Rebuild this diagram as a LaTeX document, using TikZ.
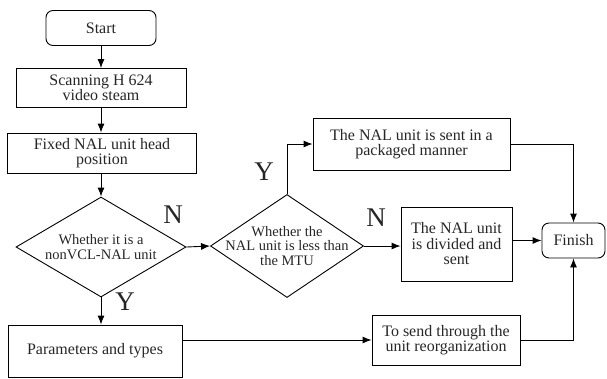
\documentclass[tikz,border=0pt]{standalone}
\usepackage{fontspec}
\setmainfont{Liberation Serif}
\usepackage{tikz}
\usetikzlibrary{positioning,shapes.geometric,arrows.meta}

\begin{document}
\begin{tikzpicture}[x=1pt, y=-1pt,
        box/.style={draw, line width=0.9pt, align=center, inner sep=1pt,
            text=black!85, font=\fontsize{16}{15.5}\selectfont},
        terminal/.style={box, rounded corners=7pt},
        decision/.style={draw, diamond, line width=0.9pt, align=center,
            aspect=1.6, inner sep=-10pt, text=black!85,
            font=\fontsize{14.5}{14.5}\selectfont},
        yn/.style={text=black!85, font=\fontsize{27}{27}\selectfont},
        arr/.style={-{Latex[length=9pt, width=7pt]}, line width=0.9pt}]
    \useasboundingbox (0,0) rectangle (607,378);

    % Nodes
    \node[terminal, minimum width=110, minimum height=35] (start) at (101,28) {Start};
    \node[box, minimum width=170, minimum height=39] (scan) at (101,88) {Scanning H 624\\video steam};
    \node[box, minimum width=189, minimum height=40] (fixed) at (102,153) {Fixed NAL unit head\\position};
    \node[decision, minimum width=170, minimum height=100] (isvcl) at (101,247) {Whether it is a\\nonVCL-NAL unit};
    \node[decision, minimum width=153, minimum height=103] (mtu) at (287,246) {Whether the\\NAL unit is less than\\the MTU};
    \node[box, minimum width=197, minimum height=52] (pack) at (411.5,144) {The NAL unit is sent in a\\packaged manner};
    \node[box, minimum width=111, minimum height=74] (divide) at (456.5,244) {The NAL unit\\is divided and\\sent};
    \node[terminal, minimum width=63, minimum height=35] (finish) at (573.5,240.5) {Finish};
    \node[box, minimum width=174, minimum height=52] (param) at (95,351) {Parameters and types};
    \node[box, minimum width=148, minimum height=50] (reorg) at (446,340) {To send through the\\unit reorganization};

    % Labels
    \node[yn] (n1) at (173,215) {N};
    \node[yn] (y1) at (125,302) {Y};
    \node[yn] (y2) at (264,172) {Y};
    \node[yn] (n2) at (376,218) {N};

    % Edges
    \draw[arr] (start) -- (scan);
    \draw[arr] (scan) -- (scan |- fixed.north);
    \draw[arr] (fixed.south -| isvcl) -- (isvcl.north);
    \draw[arr] (isvcl.east) -- (mtu.west);
    \draw[arr] (isvcl.south) -- (isvcl.south |- param.north);
    \draw[arr] (mtu.north) |- (pack.west);
    \draw[arr] (mtu.east) -- (mtu.east -| divide.west);
    \draw[arr] (pack.east) -| (finish.north);
    \draw[arr] (divide.east |- finish.west) -- (finish.west);
    \draw[arr] (param.east |- reorg.west) -- (reorg.west);
    \draw[arr] (reorg.east) -| (finish.south);

\end{tikzpicture}
\end{document}
